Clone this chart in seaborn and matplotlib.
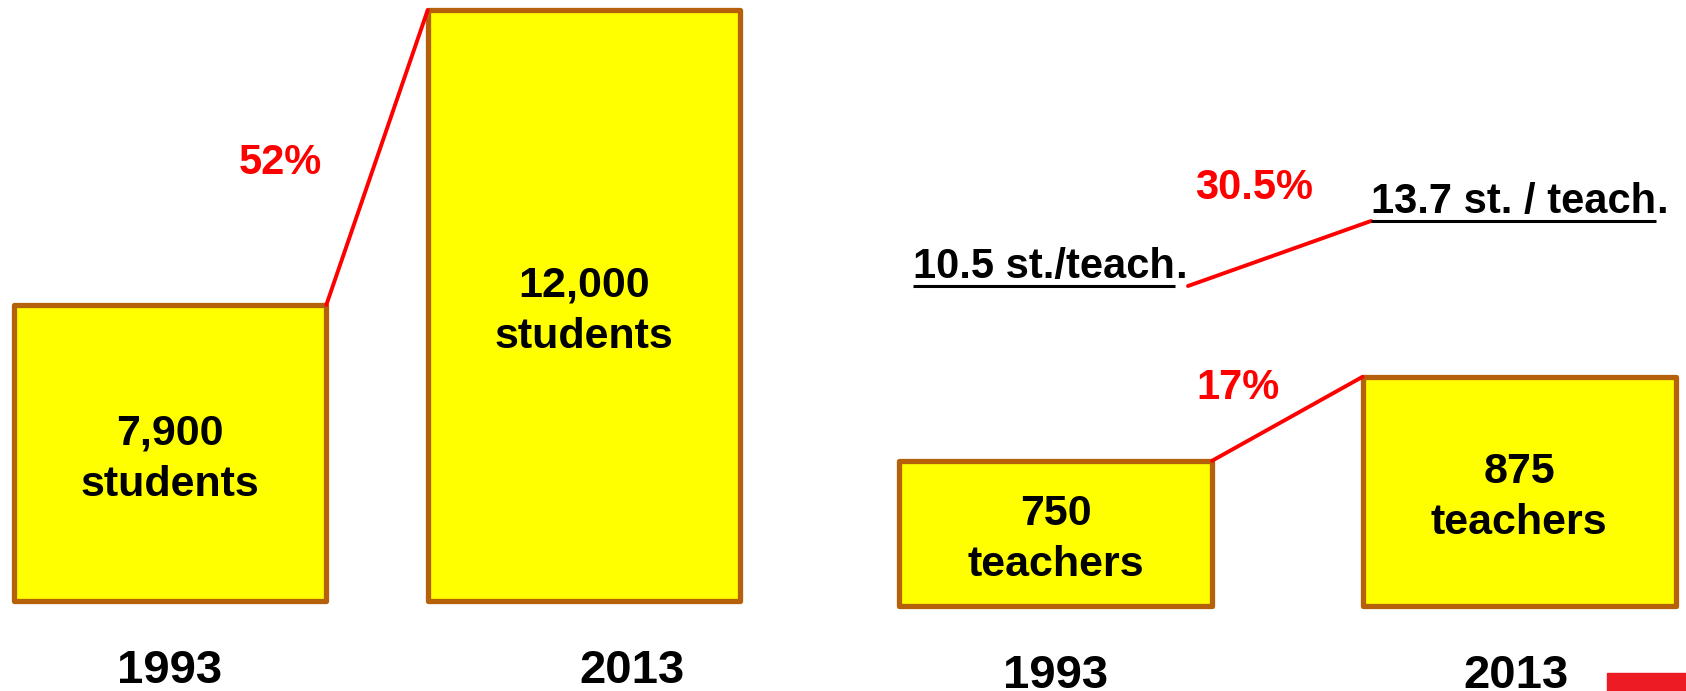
import matplotlib.pyplot as plt
import seaborn as sns
from matplotlib.patches import Rectangle

# values
YEARS = [1993, 2013]
STUDENTS = [7900, 12000]
TEACHERS = [750, 875]
RATIO = [10.5, 13.7]
STUDENT_LABELS = ["7,900\nstudents", "12,000\nstudents"]
TEACHER_LABELS = ["750\nteachers", "875\nteachers"]
RATIO_LABELS = ["10.5 st./teach", "13.7 st. / teach"]
STUDENT_GROWTH = "52%"
TEACHER_GROWTH = "17%"
RATIO_GROWTH = "30.5%"

YELLOW = "#FFFF00"
BROWN = "#B5600A"
RED = "#FF0000"
W, H = 1686, 691

sns.set_theme(style="white")
plt.rcParams["font.family"] = ["Liberation Sans", "DejaVu Sans"]

fig = plt.figure(figsize=(W / 100, H / 100), dpi=100)


def px_axes(left, top, right, bottom):
    return fig.add_axes([left / W, 1 - bottom / H, (right - left) / W, (bottom - top) / H])


def draw_bars(ax, values, labels, base, width):
    sns.barplot(x=[str(y) for y in YEARS], y=values, ax=ax, color=YELLOW,
                saturation=1, width=width, edgecolor=BROWN, linewidth=3.8)
    bars = list(ax.patches)
    for p, label in zip(bars, labels):
        top = p.get_y() + p.get_height()
        p.set_y(base)
        p.set_height(top - base)
        p.set_joinstyle("round")
        p.set_clip_on(False)
        ax.annotate(label, xy=(p.get_x() + p.get_width() / 2, (base + top) / 2),
                    xytext=(0, -6), textcoords="offset pixels",
                    ha="center", va="center", fontsize=31, fontweight="bold",
                    linespacing=1.36, color="black")
    a, b = bars
    ax.plot([a.get_x() + a.get_width(), b.get_x()],
            [a.get_y() + a.get_height(), b.get_y() + b.get_height()],
            color=RED, lw=2.8, clip_on=False, zorder=4)
    ax.set_axis_off()


def year_labels(ax, xs, y):
    for x, year in zip(xs, YEARS):
        ax.text(x, y, str(year), transform=ax.get_xaxis_transform(), ha="center",
                va="baseline", fontsize=34, fontweight="bold", color="black", clip_on=False)


# students panel
ax_s = px_axes(4.4, 5, 749.6, 601)
draw_bars(ax_s, STUDENTS, STUDENT_LABELS, base=3786, width=0.755)
ax_s.set_xlim(-0.4, 1.4)
ax_s.set_ylim(3786, 12070)
year_labels(ax_s, [0, 1.115], -0.1376)
ax_s.text(0.37, 0.716, STUDENT_GROWTH, transform=ax_s.transAxes, ha="center",
          va="baseline", color=RED, fontsize=30, fontweight="bold")

# teachers panel
ax_t = px_axes(879.4, 5, 1686, 606)
draw_bars(ax_t, TEACHERS, TEACHER_LABELS, base=534, width=0.675)
ax_t.set_xlim(-0.38, 1.36)
ax_t.set_ylim(534, 1428)
year_labels(ax_t, [0, 0.994], -0.1364)
ax_t.text(0.4446, 0.3444, TEACHER_GROWTH, transform=ax_t.transAxes, ha="center",
          va="baseline", color=RED, fontsize=30, fontweight="bold")
ax_t.text(0.465, 0.677, RATIO_GROWTH, transform=ax_t.transAxes, ha="center",
          va="baseline", color=RED, fontsize=30, fontweight="bold")

# students per teacher line
ax_r = px_axes(1188, 221, 1371, 286)
sns.lineplot(x=YEARS, y=RATIO, ax=ax_r, color=RED, lw=2.8)
ax_r.set_xlim(YEARS[0], YEARS[-1])
ax_r.set_ylim(RATIO[0], RATIO[-1])
ax_r.set_autoscale_on(False)
ax_r.set_axis_off()
for line in ax_r.lines:
    line.set_clip_on(False)

txt_kw = dict(textcoords="offset pixels", va="baseline", fontsize=30,
              fontweight="bold", color="black", annotation_clip=False)
t0 = ax_r.annotate(RATIO_LABELS[0], xy=(YEARS[0], RATIO[0]), xytext=(-13, 8), ha="right", **txt_kw)
ax_r.annotate(".", xy=(YEARS[0], RATIO[0]), xytext=(-13, 8), ha="left", **txt_kw)
t1 = ax_r.annotate(RATIO_LABELS[1], xy=(YEARS[1], RATIO[1]), xytext=(0, 8), ha="left", **txt_kw)

fig.canvas.draw()
renderer = fig.canvas.get_renderer()
inv = ax_r.transData.inverted()
for t, yv in [(t0, RATIO[0]), (t1, RATIO[1])]:
    bb = t.get_window_extent(renderer)
    x0 = inv.transform((bb.x0, 0))[0]
    x1 = inv.transform((bb.x1, 0))[0]
    ax_r.plot([x0, x1], [yv, yv], color="black", lw=2.2, clip_on=False,
              solid_capstyle="butt")
bb1 = t1.get_window_extent(renderer)
anchor = ax_r.transData.transform((YEARS[1], RATIO[1]))[0]
ax_r.annotate(".", xy=(YEARS[1], RATIO[1]), xytext=(bb1.x1 - anchor, 8), ha="left", **txt_kw)

fig.patches.append(Rectangle((1607 / W, 0), (W - 1607) / W, (H - 673) / H,
                             transform=fig.transFigure, color="#ED1C24"))

fig.savefig("out.png", dpi=100)
